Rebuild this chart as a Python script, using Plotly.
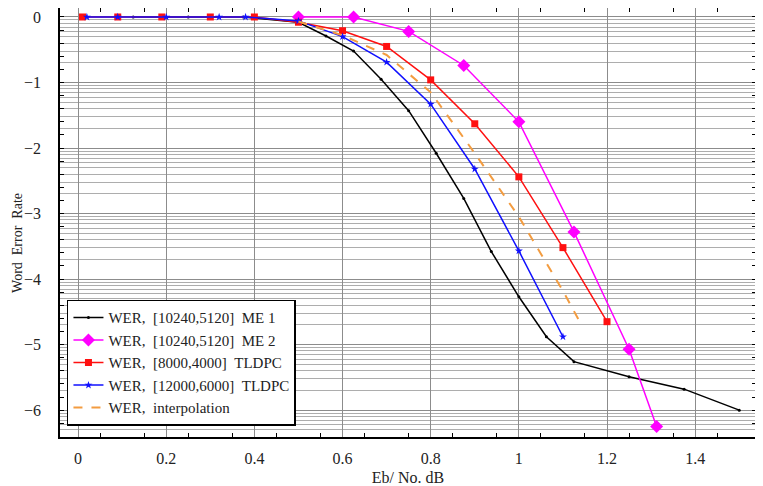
import plotly.graph_objects as go

# Eb/No (dB) and log10(WER)
x_me1 = [0.125, 0.25, 0.375, 0.5, 0.5625, 0.625, 0.6875, 0.75, 0.8125, 0.875, 0.9375, 1.0, 1.0625, 1.125, 1.25, 1.375, 1.5]
e_me1 = [0, 0, 0, -0.08, -0.29, -0.52, -0.95, -1.43, -2.08, -2.77, -3.58, -4.27, -4.88, -5.26, -5.49, -5.68, -6.0]

x_me2 = [0.5, 0.625, 0.75, 0.875, 1.0, 1.125, 1.25, 1.3125]
e_me2 = [0, 0, -0.22, -0.74, -1.6, -3.28, -5.07, -6.25]

x_t8000 = [0.01, 0.09, 0.19, 0.3, 0.4, 0.5, 0.6, 0.7, 0.8, 0.9, 1.0, 1.1, 1.2]
e_t8000 = [0, 0, 0, 0, 0, -0.08, -0.21, -0.45, -0.96, -1.63, -2.44, -3.52, -4.65]

x_t12000 = [0.02, 0.09, 0.2, 0.32, 0.38, 0.5, 0.6, 0.7, 0.8, 0.9, 1.0, 1.1]
e_t12000 = [0, 0, 0, 0, 0, -0.06, -0.3, -0.69, -1.33, -2.32, -3.57, -4.88]

x_interp = [0.5, 0.6, 0.7, 0.8, 0.9, 1.0, 1.1, 1.138]
e_interp = [-0.07, -0.28, -0.58, -1.15, -2.08, -3.05, -4.18, -4.65]

y_ticks = [0, -1, -2, -3, -4, -5, -6]
y_ticktext = ["0", "−1", "−2", "−3", "−4", "−5", "−6"]

names = ["WER,\u2002[10240,5120]\u2002ME 1", "WER,\u2002[10240,5120]\u2002ME 2",
         "WER,\u2002[8000,4000]\u2002TLDPC", "WER,\u2002[12000,6000]\u2002TLDPC",
         "WER,\u2002interpolation"]

FONT = "Liberation Serif, Times New Roman, serif"

def wer(e):
    return [10 ** v for v in e]

fig = go.Figure()
fig.add_trace(go.Scatter(x=x_me1, y=wer(e_me1), name=names[0], mode="lines+markers",
                         line=dict(color="black", width=1.5),
                         marker=dict(symbol="circle", size=3, color="black")))
fig.add_trace(go.Scatter(x=x_me2, y=wer(e_me2), name=names[1], mode="lines+markers",
                         line=dict(color="#ff00ff", width=1.5),
                         marker=dict(symbol="diamond", size=10, color="#ff00ff")))
fig.add_trace(go.Scatter(x=x_t8000, y=wer(e_t8000), name=names[2], mode="lines+markers",
                         line=dict(color="#ff1010", width=1.5),
                         marker=dict(symbol="square", size=7, color="#ff1010")))
fig.add_trace(go.Scatter(x=x_t12000, y=wer(e_t12000), name=names[3], mode="lines+markers",
                         line=dict(color="#1010ff", width=1.5),
                         marker=dict(symbol="star", size=6, color="#1010ff")))
fig.add_trace(go.Scatter(x=x_interp, y=wer(e_interp), name=names[4], mode="lines",
                         line=dict(color="#f39c40", width=2, dash="dash")))
# helper axis for the evenly spaced exponent ticks
fig.add_trace(go.Scatter(x=[], y=[], yaxis="y2", showlegend=False, hoverinfo="skip"))

yr = [-6.41, 0.137]
fig.update_layout(
    width=755, height=478,
    margin=dict(l=52, r=7, t=0, b=49, autoexpand=False),
    paper_bgcolor="white", plot_bgcolor="white",
    font=dict(family=FONT, color="#222", size=14),
    showlegend=True,
    legend=dict(x=0.01, y=0.026, xanchor="left", yanchor="bottom",
                bgcolor="white", bordercolor="black", borderwidth=1.5,
                font=dict(family=FONT, size=15, color="#222"),
                tracegroupgap=0, itemwidth=30),
    xaxis=dict(range=[-0.041, 1.538], tick0=0, dtick=0.2, ticks="",
               automargin=False,
               showgrid=True, gridcolor="#8c8c8c", gridwidth=1.2, zeroline=False,
               showline=True, linecolor="black", linewidth=1.5, mirror="ticks",
               ticklabelstandoff=6,
               tickfont=dict(family=FONT, size=16),
               minor=dict(tick0=0.05, dtick=0.1, ticks="inside", ticklen=4,
                          tickcolor="black", showgrid=False),
               title=dict(text="Eb/ No. dB", font=dict(family=FONT, size=16), standoff=6)),
    yaxis=dict(type="log", range=yr, automargin=False,
               tickvals=[10 ** t for t in y_ticks], ticktext=y_ticktext, ticks="",
               showgrid=True, gridcolor="#8c8c8c", gridwidth=1.2, zeroline=False,
               showline=True, linecolor="black", linewidth=1.5, mirror=True,
               tickfont=dict(family=FONT, size=16),
               ticklabelstandoff=14),
    yaxis2=dict(overlaying="y", side="left", range=yr, tick0=0, dtick=0.2, automargin=False,
                ticks="inside", ticklen=4, tickcolor="black", mirror="ticks",
                showgrid=False, zeroline=False, showticklabels=False, showline=False),
    annotations=[dict(text="Word  Error  Rate", textangle=-90, showarrow=False,
                      xref="paper", yref="paper", x=-0.062, y=0.452,
                      xanchor="center", yanchor="middle",
                      font=dict(family=FONT, size=14, color="#222"))],
)
fig.update_yaxes(minor=dict(dtick="D1", showgrid=True, gridcolor="#adadad", gridwidth=1, ticks=""),
                 selector=dict(type="log"))

fig.write_html("out.html")
